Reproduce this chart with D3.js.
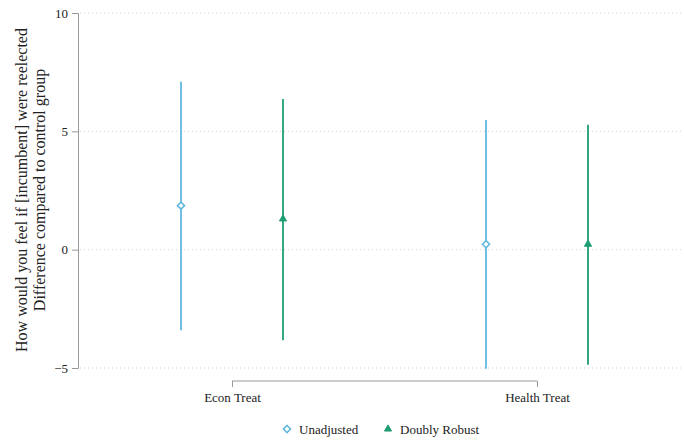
<!DOCTYPE html>
<html>
<head>
<meta charset="utf-8">
<script src="https://cdn.jsdelivr.net/npm/d3@7"></script>
<style>
  body { margin: 0; background: #fff; }
  svg { display: block; font-family: "Liberation Serif", "Times New Roman", serif; }
</style>
</head>
<body>
<svg id="chart"></svg>
<script>
var groups = ['Econ Treat', 'Health Treat'];
var series = ['Unadjusted', 'Doubly Robust'];
var estimates = [[1.86, 1.3], [0.23, 0.23]];
var lower = [[-3.41, -3.83], [-5.03, -4.86]];
var upper = [[7.09, 6.37], [5.48, 5.28]];
var yTicks = [-5, 0, 5, 10];
var colors = ['#62b9de', '#1e9e72'];

var $svg = {width: 684, height: 442};
var serif = '"Liberation Serif", "Times New Roman", serif';

function init () {
    var svg = (
        d3.select('svg#chart')
        .attr('width', $svg.width)
        .attr('height', $svg.height)
    );

    var y = d3.scaleLinear().domain([-5, 10]).range([368, 13]);
    var x = d3.scalePoint().domain(groups).range([232, 537]);
    var offset = d3.scalePoint().domain(series).range([-51, 51]);

    // gridlines
    svg.append('g')
        .selectAll('line')
        .data(yTicks)
        .join('line')
        .attr('x1', 80).attr('x2', 684)
        .attr('y1', d => y(d)).attr('y2', d => y(d))
        .attr('stroke', '#d0d0d0')
        .attr('stroke-width', 1)
        .attr('stroke-dasharray', '1,3');

    // y axis
    var yAxis = (
        svg.append('g')
        .attr('transform', 'translate(78,0)')
        .call(d3.axisLeft(y).tickValues(yTicks).tickSize(6).tickPadding(4))
    );
    yAxis.attr('font-family', serif);
    yAxis.selectAll('path, line').attr('stroke', '#999');
    yAxis.selectAll('text')
        .attr('font-size', 13)
        .attr('fill', '#222');

    // x axis (bracket)
    var xAxis = (
        svg.append('g')
        .attr('transform', 'translate(0,381)')
        .call(d3.axisBottom(x).tickSize(6).tickSizeOuter(0).tickPadding(6))
    );
    xAxis.attr('font-family', serif);
    xAxis.select('path.domain').attr('d', `M${x(groups[0])},0H${x(groups[1])}`);
    xAxis.selectAll('path, line').attr('stroke', '#999');
    xAxis.selectAll('text')
        .attr('font-size', 13)
        .attr('fill', '#222');

    // y title
    var title = (
        svg.append('text')
        .attr('transform', 'translate(27,190) rotate(-90)')
        .attr('text-anchor', 'middle')
        .attr('font-family', serif)
        .attr('font-size', 16)
        .attr('fill', '#222')
    );
    title.append('tspan').attr('x', 0).attr('dy', 0)
        .text('How would you feel if [incumbent] were reelected');
    title.append('tspan').attr('x', 0).attr('dy', 18)
        .text('Difference compared to control group');

    var rows = [];
    groups.forEach((g, gi) => {
        series.forEach((s, si) => {
            rows.push({
                group: g, series: s, si: si,
                est: estimates[gi][si], lo: lower[gi][si], hi: upper[gi][si]
            });
        });
    });

    var marks = svg.append('g');
    marks.selectAll('line.ci')
        .data(rows)
        .join('line')
        .attr('class', 'ci')
        .attr('x1', d => x(d.group) + offset(d.series))
        .attr('x2', d => x(d.group) + offset(d.series))
        .attr('y1', d => y(d.lo))
        .attr('y2', d => y(d.hi))
        .attr('stroke', d => colors[d.si])
        .attr('stroke-width', 1.8);

    var diamond = d3.symbol().type(d3.symbolDiamond2).size(32);
    var triangle = d3.symbol().type(d3.symbolTriangle).size(22);

    marks.selectAll('path.pt')
        .data(rows)
        .join('path')
        .attr('class', 'pt')
        .attr('transform', d => `translate(${x(d.group) + offset(d.series)},${y(d.est)})`)
        .attr('d', d => d.si === 0 ? diamond() : triangle())
        .attr('fill', d => d.si === 0 ? '#fff' : colors[1])
        .attr('stroke', d => colors[d.si])
        .attr('stroke-width', d => d.si === 0 ? 1.6 : 1);

    // legend
    var legendX = [287, 388];
    var legend = svg.append('g')
        .attr('font-family', serif)
        .selectAll('g')
        .data(series)
        .join('g')
        .attr('transform', (d, i) => `translate(${legendX[i]},429)`);
    legend.append('path')
        .attr('d', (d, i) => i === 0 ? diamond() : triangle())
        .attr('fill', (d, i) => i === 0 ? '#fff' : colors[1])
        .attr('stroke', (d, i) => colors[i])
        .attr('stroke-width', (d, i) => i === 0 ? 1.6 : 1);
    legend.append('text')
        .attr('x', 12)
        .attr('dy', '0.35em')
        .attr('font-size', 13)
        .attr('fill', '#222')
        .text(d => d);
}

init();
</script>
</body>
</html>
